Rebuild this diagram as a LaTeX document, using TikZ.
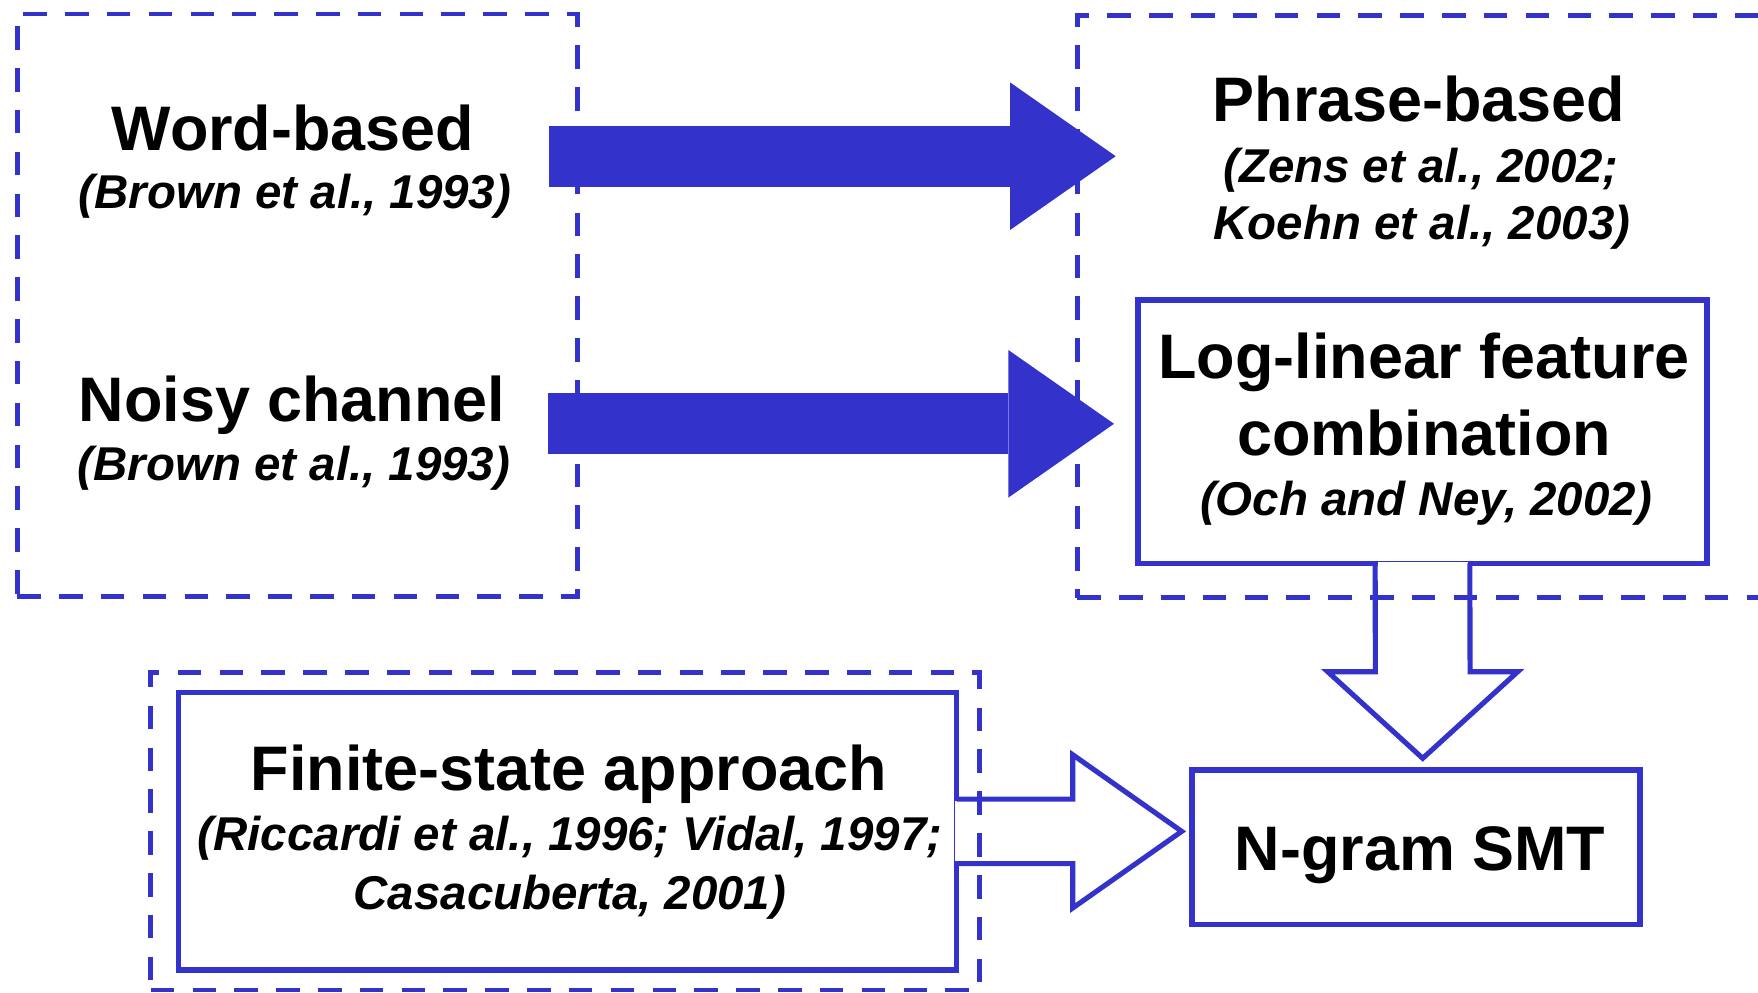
\documentclass[tikz,border=0pt]{standalone}
\usepackage{fontspec}
\setmainfont{Liberation Sans}
\usetikzlibrary{arrows.meta, positioning, calc}
\definecolor{smtBlue}{HTML}{3333CC}

\begin{document}
\begin{tikzpicture}[
    grp/.style={rectangle, draw=smtBlue, line width=1.35pt,
                dash pattern=on 6.7pt off 5.2pt, inner sep=0pt},
    solidbox/.style={rectangle, draw=smtBlue, line width=1.45pt, inner sep=0pt},
    ttl/.style={font=\fontsize{17.9}{21}\selectfont\bfseries, anchor=base, inner sep=0pt},
    citetxt/.style={font=\fontsize{13.5}{16}\selectfont\bfseries\itshape, anchor=base, inner sep=0pt},
    fatarrow/.style={draw=smtBlue, line width=0.61cm,
                -{Triangle[length=1.057cm, width=1.477cm, line width=0pt]}},
    hollow/.style={draw=smtBlue, line width=1.45pt, line join=miter},
  ]
    \useasboundingbox (0,0) rectangle (17.58,-9.92);

    % solid boxes
    \node[solidbox, minimum width=5.69cm, minimum height=2.634cm] (logbox) at (14.225,-4.317) {};
    \node[solidbox, minimum width=7.78cm, minimum height=2.773cm] (fsbox) at (5.677,-8.3135) {};
    \node[solidbox, minimum width=4.48cm, minimum height=1.545cm] (ngrambox) at (14.16,-8.4725) {};

    % dashed groups
    \node[grp, minimum width=5.60cm, minimum height=5.824cm] (leftgrp) at (2.973,-3.051) {};
    \node[grp, minimum width=6.977cm, minimum height=5.822cm] (rightgrp) at (14.2615,-3.066) {};
    \node[grp, minimum width=8.286cm, minimum height=3.173cm] (fsgrp) at (5.65,-8.3135) {};

    % texts
    \node[ttl] (wordttl) at (2.93,-1.50) {Word-based};
    \node[citetxt] (wordcite) at (2.95,-2.08) {(Brown et al., 1993)};
    \node[ttl] (noisyttl) at (2.92,-4.21) {Noisy channel};
    \node[citetxt] (noisycite) at (2.94,-4.80) {(Brown et al., 1993)};

    \node[ttl] (phrasettl) at (14.19,-1.21) {Phrase-based};
    \node[citetxt] (phrasecite) at (14.21,-1.82) {(Zens et al., 2002;};
    \node[citetxt] (phrasecitb) at (14.22,-2.39) {Koehn et al., 2003)};

    \node[ttl] (logttl) at (14.24,-3.78) {Log-linear feature};
    \node[ttl] (logttlb) at (14.24,-4.555) {combination};
    \node[citetxt] (logcite) at (14.26,-5.15) {(Och and Ney, 2002)};

    \node[ttl] (fsttl) at (5.69,-7.90) {Finite-state approach};
    \node[citetxt] (fscite) at (5.70,-8.50) {(Riccardi et al., 1996; Vidal, 1997;};
    \node[citetxt] (fscitb) at (5.70,-9.09) {Casacuberta, 2001)};

    \node[ttl] (ngramttl) at (14.20,-8.70) {N-gram SMT};

    % filled arrows
    \coordinate (wordtail) at (5.49,-1.562);
    \coordinate (wordtip) at (11.157,-1.562);
    \coordinate (noisytail) at (5.477,-4.238);
    \coordinate (noisytip) at (11.14,-4.238);
    \draw[fatarrow] (wordtail) -- (wordtip);
    \draw[fatarrow] (noisytail) -- (noisytip);

    % hollow arrows
    \coordinate (dntip) at (14.227,-7.583);
    \fill[white] ($(logbox.south)+(-0.45,0.04)$) rectangle ($(logbox.south)+(0.45,-0.04)$);
    \draw[hollow] ($(logbox.south)+(-0.4735,0.026)$) -- ($(dntip)+(-0.4735,0.866)$)
      -- ($(dntip)+(-0.95,0.866)$) -- (dntip) -- ($(dntip)+(0.95,0.866)$)
      -- ($(dntip)+(0.4735,0.866)$) -- ($(logbox.south)+(0.4735,0.026)$);

    \coordinate (rttip) at (11.817,-8.3135);
    \fill[white] ($(fsbox.east)+(-0.04,0.30)$) rectangle ($(fsbox.east)+(0.04,-0.30)$);
    \draw[hollow] ($(fsbox.east)+(-0.026,0.323)$) -- ($(rttip)+(-1.09,0.323)$)
      -- ($(rttip)+(-1.09,0.7665)$) -- (rttip) -- ($(rttip)+(-1.09,-0.7665)$)
      -- ($(rttip)+(-1.09,-0.323)$) -- ($(fsbox.east)+(-0.026,-0.323)$);
  \end{tikzpicture}
\end{document}
